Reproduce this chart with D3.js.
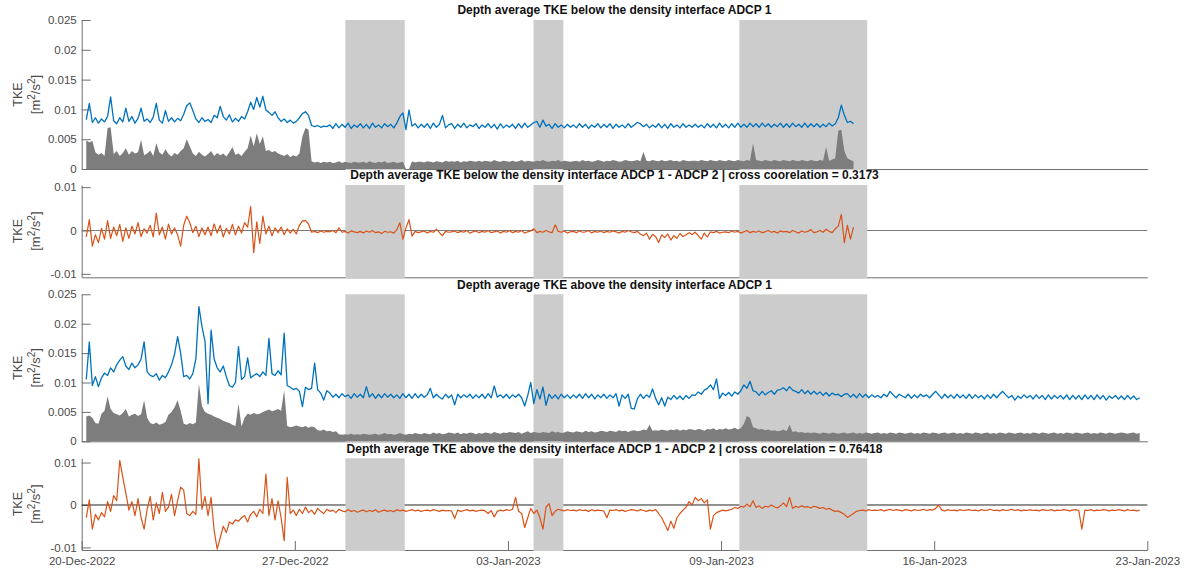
<!DOCTYPE html>
<html>
<head>
<meta charset="utf-8">
<script src="https://cdn.jsdelivr.net/npm/d3@7"></script>
<style>
  html, body { margin: 0; padding: 0; background: #fff; }
  svg { display: block; font-family: "Liberation Sans", Arial, Helvetica, sans-serif; }
</style>
</head>
<body>
<svg id="chart" width="1184" height="571"></svg>
<script>
// ---- time axis: days since 20-Dec-2022, samples every 0.1 day ----
const T0 = 0.15;
const DT = 0.1;
const xTickDays = [0, 7, 14, 21, 28, 35];
const xTickLabels = ["20-Dec-2022", "27-Dec-2022", "03-Jan-2023", "09-Jan-2023", "16-Jan-2023", "23-Jan-2023"];

// shaded periods [start day, end day]
const shadedPeriods = [[8.66, 10.61], [14.84, 15.82], [21.6, 25.8]];

const titles = [
  "Depth average TKE below the density interface ADCP 1",
  "Depth average TKE below the density interface ADCP 1 - ADCP 2 | cross coorelation = 0.3173",
  "Depth average TKE above the density interface ADCP 1",
  "Depth average TKE above the density interface ADCP 1 - ADCP 2 | cross coorelation = 0.76418"
];

const tkeTicks = [0, 0.005, 0.01, 0.015, 0.02, 0.025];
const diffTicks = [-0.01, 0, 0.01];

// series values are stored in units of 1e-4 m^2/s^2
const UNIT = 1e-4;

const belowADCP1 = [
  83, 110, 78, 86, 77, 84, 79, 88, 121, 81,
  76, 86, 79, 102, 80, 88, 77, 85, 102, 80,
  84, 78, 87, 110, 82, 77, 98, 80, 86, 79,
  85, 81, 92, 106, 111, 98, 84, 78, 86, 80,
  83, 78, 90, 86, 105, 88, 82, 91, 79, 85,
  80, 88, 84, 96, 112, 100, 120, 104, 122, 99,
  95, 90, 96, 86, 80, 84, 78, 82, 77, 80,
  86, 93, 96, 90, 73, 71, 73, 70, 72, 71,
  74, 68, 76, 69, 75, 70, 77, 68, 74, 70,
  76, 69, 75, 68, 77, 70, 74, 69, 76, 71,
  75, 69, 77, 88, 94, 66, 99, 72, 76, 69,
  75, 70, 76, 68, 77, 70, 75, 90, 69, 74,
  76, 68, 75, 70, 77, 69, 74, 71, 76, 68,
  74, 70, 76, 69, 75, 67, 76, 69, 74, 70,
  75, 68, 76, 69, 77, 70, 74, 78, 80, 70,
  82, 72, 75, 68, 76, 70, 74, 69, 75, 70,
  74, 69, 76, 70, 75, 68, 74, 70, 76, 69,
  75, 70, 76, 68, 75, 70, 74, 69, 76, 70,
  74, 78, 76, 71, 75, 69, 74, 70, 76, 69,
  75, 68, 76, 70, 74, 69, 76, 70, 74, 70,
  75, 70, 74, 69, 76, 70, 75, 69, 77, 70,
  75, 69, 76, 70, 77, 70, 75, 70, 77, 71,
  76, 70, 77, 71, 76, 70, 75, 71, 77, 70,
  76, 70, 77, 71, 75, 70, 77, 70, 76, 71,
  76, 70, 75, 71, 77, 72, 76, 86, 107, 90,
  78, 80, 76
];

const belowStd = [
  48, 45, 47, 28, 24, 27, 22, 69, 70, 25,
  30, 22, 27, 35, 24, 30, 26, 28, 49, 23,
  26, 31, 22, 43, 28, 24, 33, 25, 21, 27,
  24, 30, 35, 50, 38, 26, 22, 29, 24, 21,
  25, 30, 22, 27, 23, 26, 21, 28, 37, 24,
  26, 22, 29, 35, 56, 38, 60, 42, 55, 30,
  32, 28, 30, 26, 24, 22, 25, 20, 23, 21,
  26, 55, 69, 66, 13, 11, 12, 10, 12, 11,
  12, 10, 11, 13, 10, 12, 11, 10, 12, 11,
  11, 12, 10, 13, 11, 10, 12, 11, 13, 10,
  11, 12, 10, 11, 12, 0, 0, 13, 11, 12,
  12, 11, 13, 12, 11, 13, 12, 11, 14, 12,
  13, 12, 14, 11, 13, 12, 14, 13, 12, 14,
  12, 14, 13, 12, 15, 13, 12, 14, 13, 12,
  14, 12, 13, 15, 12, 14, 13, 12, 14, 13,
  15, 13, 12, 14, 13, 15, 12, 14, 13, 12,
  13, 14, 12, 15, 13, 14, 12, 13, 15, 14,
  12, 14, 13, 15, 14, 12, 13, 15, 14, 13,
  14, 15, 13, 29, 14, 13, 15, 14, 13, 15,
  13, 14, 15, 13, 14, 12, 15, 14, 13, 14,
  14, 13, 15, 14, 13, 15, 14, 13, 15, 14,
  13, 15, 14, 13, 15, 14, 13, 15, 14, 43,
  15, 14, 13, 15, 14, 13, 15, 14, 13, 15,
  14, 13, 15, 14, 13, 15, 14, 13, 15, 14,
  13, 15, 14, 37, 14, 16, 18, 64, 66, 30,
  18, 15, 13
];

const belowDiff = [
  -15, 25, -36, -10, -28, 5, -20, 23, -18, 8,
  -12, 14, -25, 6, -18, 10, -8, 18, -14, 4,
  -6, 12, -15, 40, -10, 8, -20, 15, -8, 6,
  -10, -36, 12, 33, 18, -5, 10, -14, 6, -10,
  8, -12, 15, -6, 12, -15, 5, -8, 14, -10,
  10, -6, 18, 8, 55, -51, 20, -30, 33, -8,
  10, -12, 6, -5, 8, -10, 4, -6, 3, -8,
  12, 22, 23, 15, -4, -2, -5, -1, -4, -2,
  -3, 0, -5, 6, -4, -2, -6, -1, -3, -5,
  -2, -6, -1, -4, 0, -5, -3, -7, -2, -4,
  -3, -6, 2, 18, -20, 6, 25, -13, -2, -5,
  -3, -1, -6, -2, -4, 3, -5, -12, -2, -4,
  -3, -1, -5, -2, -4, 0, -6, -3, -1, -5,
  -2, -4, 0, -5, -3, -1, -6, -2, -4, 0,
  -5, -2, -4, 0, -6, -3, -1, 4, -5, -2,
  -4, 0, -3, -5, 13, -2, -4, -1, -6, -3,
  -2, -5, -1, -4, -3, 0, -6, -2, -4, -1,
  -5, -2, -4, -1, -3, -6, -2, -4, 0, -3,
  -5, -2, -8, -12, -6, -20, -9, -14, -28, -10,
  -16, -8, -22, -12, -18, -7, -14, -10, -5, -9,
  -4, -12, -20, -6, -15, -3, -5, -2, -6, -4,
  -3, -5, -1, -4, -2, -6, -3, 0, -5, -2,
  -4, -1, -5, -3, 0, -4, -2, -6, -1, -3,
  -2, -5, 0, -3, -6, -1, -4, -2, 2, -5,
  -3, 0, -4, 3, -2, -5, 4, 10, 37, -28,
  12, -20, 8
];

const aboveADCP1 = [
  105, 169, 95, 110, 93, 108, 116, 112, 125, 118,
  130, 138, 144, 128, 122, 133, 125, 130, 140, 169,
  118, 112, 110, 115, 104, 112, 108, 118, 130, 148,
  178, 150, 110, 112, 106, 115, 140, 229, 195, 170,
  64, 189, 140, 125, 118, 128, 110, 95, 92, 100,
  161, 105, 110, 142, 108, 112, 115, 110, 118, 112,
  175, 115, 112, 120, 113, 184, 95, 92, 88, 90,
  85, 59, 92, 88, 90, 133, 88, 82, 70, 86,
  82, 75, 80, 74, 81, 76, 79, 73, 81, 75,
  80, 74, 93, 75, 81, 73, 80, 74, 81, 75,
  80, 74, 79, 73, 81, 74, 80, 73, 81, 74,
  80, 75, 79, 90, 74, 80, 75, 72, 80, 74,
  79, 62, 80, 74, 79, 75, 80, 73, 79, 74,
  80, 73, 81, 74, 94, 75, 79, 74, 80, 73,
  79, 75, 80, 74, 60, 78, 100, 64, 88, 72,
  92, 61, 80, 73, 79, 72, 80, 74, 79, 73,
  79, 74, 80, 73, 81, 74, 80, 72, 79, 74,
  80, 73, 79, 74, 81, 60, 79, 73, 80, 56,
  55, 72, 80, 73, 79, 75, 89, 73, 62, 74,
  60, 75, 71, 78, 72, 77, 71, 78, 73, 79,
  78, 84, 80, 87, 90, 96, 88, 106, 73, 82,
  78, 83, 77, 84, 80, 86, 96, 90, 102, 86,
  84, 78, 85, 79, 83, 86, 80, 87, 88, 91,
  86, 93, 87, 85, 82, 88, 81, 86, 80, 85,
  80, 84, 78, 83, 77, 82, 79, 80, 76, 80,
  81, 75, 80, 74, 81, 75, 80, 74, 79, 75,
  78, 74, 80, 76, 85, 79, 74, 80, 77, 74,
  80, 73, 79, 74, 80, 76, 79, 74, 80, 85,
  79, 73, 80, 74, 79, 73, 80, 74, 79, 73,
  80, 73, 79, 74, 78, 72, 79, 73, 80, 74,
  80, 85, 79, 74, 78, 70, 77, 73, 79, 74,
  78, 72, 79, 73, 78, 71, 79, 72, 78, 73,
  78, 72, 79, 71, 78, 72, 78, 71, 79, 72,
  78, 71, 79, 72, 78, 70, 77, 73, 78, 72,
  77, 71, 78, 72, 77, 71, 74
];

const aboveStd = [
  42, 44, 40, 31, 30, 47, 52, 76, 55, 48,
  46, 44, 48, 55, 42, 45, 47, 43, 46, 70,
  40, 31, 29, 32, 28, 30, 33, 45, 50, 58,
  70, 52, 30, 28, 31, 29, 32, 98, 60, 50,
  47, 45, 42, 40, 38, 35, 33, 31, 28, 26,
  64, 25, 40, 47, 45, 48, 46, 47, 50, 52,
  54, 51, 53, 55, 52, 87, 26, 24, 25, 27,
  25, 24, 26, 23, 25, 24, 19, 18, 20, 17,
  18, 16, 17, 12, 11, 12, 11, 13, 11, 12,
  11, 13, 12, 11, 12, 13, 11, 12, 14, 12,
  13, 11, 12, 14, 12, 11, 13, 12, 14, 13,
  12, 14, 13, 12, 15, 13, 14, 12, 13, 15,
  14, 13, 15, 12, 14, 13, 15, 14, 12, 14,
  13, 15, 14, 13, 16, 14, 13, 15, 14, 16,
  15, 14, 16, 13, 15, 17, 14, 16, 15, 14,
  16, 15, 14, 17, 15, 16, 14, 15, 17, 16,
  15, 17, 16, 15, 18, 16, 17, 15, 16, 18,
  17, 16, 18, 17, 16, 19, 17, 18, 16, 18,
  19, 17, 18, 20, 19, 28, 18, 19, 18, 20,
  19, 18, 20, 19, 21, 18, 20, 19, 21, 20,
  19, 21, 20, 18, 21, 20, 22, 19, 21, 20,
  22, 20, 21, 23, 20, 22, 30, 43, 40, 24,
  22, 20, 21, 19, 20, 18, 19, 17, 18, 20,
  17, 28, 16, 17, 15, 16, 14, 15, 14, 15,
  14, 13, 15, 14, 13, 15, 14, 13, 14, 15,
  13, 14, 15, 13, 14, 13, 15, 14, 13, 14,
  15, 13, 14, 13, 15, 14, 13, 15, 14, 13,
  14, 15, 13, 14, 13, 15, 14, 13, 15, 14,
  13, 14, 15, 13, 14, 15, 13, 14, 13, 15,
  14, 13, 15, 14, 13, 14, 15, 13, 14, 13,
  15, 14, 13, 15, 14, 13, 14, 15, 13, 14,
  13, 15, 14, 13, 15, 14, 13, 14, 15, 13,
  14, 13, 15, 14, 13, 15, 14, 13, 14, 15,
  13, 14, 13, 15, 14, 13, 15, 14, 13, 14,
  15, 14, 13, 14, 15, 13, 14
];

const aboveDiff = [
  -30, 12, -57, -22, -35, -18, -28, 8, -15, 22,
  10, 105, 65, 28, -12, 8, -25, 15, -30, -57,
  -10, 20, -35, 5, -20, 30, -15, -5, 25, -25,
  10, 42, 35, -20, -25, -15, -22, 109, -10, 20,
  -25, 18, -60, -104, -77, -50, -65, -40, -45, -35,
  -38, -30, -25, -40, -22, -15, -28, -10, -20, 73,
  -25, 15, -35, 10, -30, -84, 65, -20, -12, -25,
  -10, -20, -5, -18, -12, -22, -8, -15, -20, -10,
  -15, -12, -18, -10, -14, -16, -11, -15, -13, -17,
  -14, -12, -16, -13, -15, -11, -17, -14, -12, -15,
  -13, -16, -11, -14, -12, -15, -13, -11, -14, -12,
  -15, -13, -12, -14, -11, -13, -15, -12, -14, -13,
  -14, -32, -12, -15, -13, -11, -14, -12, -15, -13,
  -12, -14, -20, -13, -28, -15, -12, -14, -11, -13,
  -10, 18, -15, -20, -53, -30, -8, -20, -12, -30,
  -57, -5, 3, -25, -15, -10, -12, -14, -11, -13,
  -12, -14, -11, -13, -12, -15, -11, -14, -12, -13,
  -14, -30, -12, -13, -11, -14, -12, -15, -13, -11,
  -12, -14, -11, -13, -15, -12, -14, -11, -20, -30,
  -45, -60, -38, -55, -30, -20, -12, -5, 8, 0,
  18, 10, 15, 5, 12, -57, -25, -18, -15, -12,
  -14, -12, -10, -6, -8, -3, -5, 2, -4, 10,
  -6, -2, -8, -3, -5, 0, -4, -7, -2, 5,
  -4, 18, -8, -3, -6, -2, -5, -4, -7, -3,
  -5, -8, -6, -10, -8, -12, -15, -14, -18, -22,
  -29, -25, -20, -15, -13, -12, -14, -11, -13, -12,
  -13, -11, -14, -12, -10, -13, -11, -12, -14, -11,
  -12, -14, -11, -13, -12, -10, -13, -11, -12, -8,
  0, -12, -14, -11, -13, -12, -14, -11, -13, -12,
  -11, -13, -12, -14, -11, -13, -12, -10, -13, -12,
  -14, -11, -13, -12, -10, -13, -11, -14, -12, -13,
  -11, -13, -12, -14, -11, -12, -13, -11, -14, -12,
  -13, -11, -12, -14, -12, -11, -13, -57, -12, -13,
  -11, -14, -12, -13, -11, -12, -14, -12, -13, -11,
  -12, -14, -11, -13, -12, -14, -12
];

// ---- layout ----
const BLUE = "#0072BD", ORANGE = "#D95319", BAR_GREY = "#7d7d7d", SHADE = "#cccccc";
const AXIS = "#6e6e6e", LABEL = "#4a4a4a";

const x = d3.scaleLinear().domain([0, 35]).range([81.7, 1147.3]);

const panels = [
  { top: 20,    bottom: 169,   domain: [0, 0.025],       ticks: tkeTicks,  title: titles[0], titleY: 14,
    line: belowADCP1, bars: belowStd, color: BLUE, width: 1.3 },
  { top: 185,   bottom: 277.3, domain: [-0.0108, 0.0105], ticks: diffTicks, title: titles[1], titleY: 179,
    line: belowDiff, color: ORANGE, width: 1.2, zero: "#7a7a7a" },
  { top: 294.3, bottom: 441.3, domain: [0, 0.025],       ticks: tkeTicks,  title: titles[2], titleY: 288.5,
    line: aboveADCP1, bars: aboveStd, color: BLUE, width: 1.3 },
  { top: 458.3, bottom: 550,   domain: [-0.0106, 0.011],  ticks: diffTicks, title: titles[3], titleY: 453,
    line: aboveDiff, color: ORANGE, width: 1.2, zero: "#262626", dates: true }
];

const svg = d3.select("#chart");
const tOf = i => T0 + i * DT;

panels.forEach(p => {
  const y = d3.scaleLinear().domain(p.domain).range([p.bottom, p.top]);
  const g = svg.append("g");

  // bottom axis line (with date ticks on the last panel)
  const xAxis = d3.axisBottom(x).tickSizeOuter(0).tickSizeInner(-9).tickPadding(7);
  if (p.dates) xAxis.tickValues(xTickDays).tickFormat((d, i) => xTickLabels[i]);
  else xAxis.tickValues([]);
  const gx = g.append("g").attr("transform", `translate(0,${p.bottom})`).call(xAxis);
  gx.select(".domain").attr("stroke", AXIS);
  gx.selectAll(".tick line").attr("stroke", AXIS);
  gx.selectAll(".tick text").attr("fill", LABEL).attr("font-size", 11.5)
    .attr("font-family", '"Liberation Sans", Arial, sans-serif');

  // left axis
  const yAxis = d3.axisLeft(y).tickValues(p.ticks).tickFormat(d => String(d))
    .tickSizeOuter(0).tickSizeInner(-9).tickPadding(5);
  const gy = g.append("g").attr("transform", `translate(${x(0)},0)`).call(yAxis);
  gy.select(".domain").attr("stroke", AXIS);
  gy.selectAll(".tick line").attr("stroke", AXIS);
  gy.selectAll(".tick text").attr("fill", LABEL).attr("font-size", 11.5)
    .attr("font-family", '"Liberation Sans", Arial, sans-serif');

  // zero reference line
  if (p.zero) {
    g.append("line").attr("x1", x(0)).attr("x2", x(35))
      .attr("y1", y(0)).attr("y2", y(0)).attr("stroke", p.zero).attr("stroke-width", 1);
  }

  // shaded periods
  g.selectAll("rect.shade").data(shadedPeriods).join("rect").attr("class", "shade")
    .attr("x", d => x(d[0])).attr("width", d => x(d[1]) - x(d[0]))
    .attr("y", p.top).attr("height", p.bottom - p.top + 1)
    .attr("fill", SHADE);

  // grey bar series from zero
  if (p.bars) {
    const area = d3.area()
      .x((d, i) => x(tOf(i)))
      .y0(y(0))
      .y1(d => y(d * UNIT));
    g.append("path").datum(p.bars).attr("d", area).attr("fill", BAR_GREY);
  }

  // main series
  const line = d3.line().x((d, i) => x(tOf(i))).y(d => y(d * UNIT));
  g.append("path").datum(p.line).attr("d", line)
    .attr("fill", "none").attr("stroke", p.color).attr("stroke-width", p.width)
    .attr("stroke-linejoin", "round");

  // title
  g.append("text").attr("x", (x(0) + x(35)) / 2).attr("y", p.titleY)
    .attr("text-anchor", "middle").attr("font-weight", "bold").attr("font-size", 12)
    .attr("fill", "#111").text(p.title);

  // y label: TKE / [m^2/s^2]
  const mid = (p.top + p.bottom) / 2;
  g.append("text").attr("transform", `translate(22,${mid}) rotate(-90)`)
    .attr("text-anchor", "middle").attr("font-size", 12.5).attr("fill", LABEL).text("TKE");
  const u = g.append("text").attr("transform", `translate(40,${mid}) rotate(-90)`)
    .attr("text-anchor", "middle").attr("font-size", 13).attr("fill", LABEL);
  u.append("tspan").text("[m");
  u.append("tspan").attr("dy", -5).attr("font-size", 10).text("2");
  u.append("tspan").attr("dy", 5).text("/s");
  u.append("tspan").attr("dy", -5).attr("font-size", 10).text("2");
  u.append("tspan").attr("dy", 5).text("]");
});
</script>
</body>
</html>
